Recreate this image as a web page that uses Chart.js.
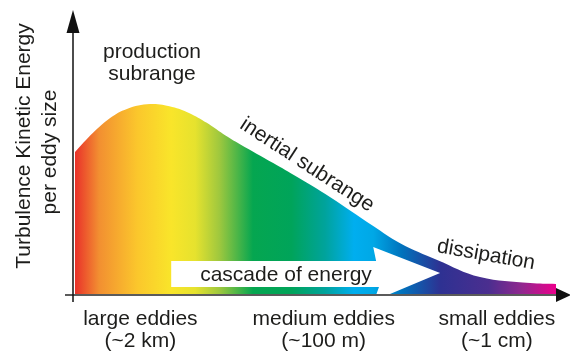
<!DOCTYPE html>
<html>
<head>
<meta charset="utf-8">
<script src="https://cdn.jsdelivr.net/npm/chart.js@4.4.1/dist/chart.umd.min.js"></script>
<style>
  html, body { margin: 0; padding: 0; background: #fff; }
  #wrap { width: 570px; height: 357px; }
</style>
</head>
<body>
<div id="wrap"><canvas id="spectrum" width="570" height="357"></canvas></div>
<script>
/* ================= DATA ================= */
// relative eddy size position (0 = largest, 100 = smallest)
const eddyScale = [0, 3.7, 7.3, 10.8, 15.6, 20.2, 23.7, 27.4, 30.8, 34.3, 41.2, 46.2, 53.0, 62.0, 67.6, 75.3, 84.2, 94.6, 100];
// energy per eddy size (relative)
const energy = [50.2, 56.8, 62.1, 65.3, 67.0, 66.0, 63.9, 60.4, 56.5, 52.9, 46.3, 41.4, 34.4, 24.2, 18.2, 12.3, 6.3, 4.2, 3.9];

// size classes along the bottom
const sizeNames = ["large eddies", "medium eddies", "small eddies"];
const sizeRanges = ["(~2 km)", "(~100 m)", "(~1 cm)"];
const sizeAt = [13.6, 51.7, 87.7];

/* ================= HELPERS ================= */
const FONT = '21px "Liberation Sans", Arial, Helvetica, sans-serif';
const INK = "#1d1d1b";

function rainbow(ctx, area) {
  const g = ctx.createLinearGradient(area.left, 0, area.right, 0);
  g.addColorStop(0.00, "#e9312a");
  g.addColorStop(0.05, "#f28f31");
  g.addColorStop(0.13, "#fbc72c");
  g.addColorStop(0.20, "#f9e52a");
  g.addColorStop(0.25, "#e6e22e");
  g.addColorStop(0.30, "#9fc83e");
  g.addColorStop(0.37, "#05a650");
  g.addColorStop(0.45, "#00a45a");
  g.addColorStop(0.52, "#00a39c");
  g.addColorStop(0.58, "#00aeef");
  g.addColorStop(0.62, "#00a8e6");
  g.addColorStop(0.68, "#0072bc");
  g.addColorStop(0.76, "#2e3192");
  g.addColorStop(0.86, "#4b2e8f");
  g.addColorStop(0.93, "#92278f");
  g.addColorStop(1.00, "#ec008c");
  return g;
}

/* ================= ANNOTATIONS ================= */
const schematic = {
  id: "schematic",
  afterDatasetsDraw(chart) {
    const { ctx, chartArea: a, scales: { x, y } } = chart;
    const px = v => x.getPixelForValue(v);
    const py = v => y.getPixelForValue(v);

    // white "cascade of energy" arrow
    ctx.save();
    ctx.fillStyle = "#fff";
    ctx.beginPath();
    ctx.moveTo(px(20), py(11.9));
    ctx.lineTo(px(62.6), py(11.9));
    ctx.lineTo(px(62.0), py(16.8));
    ctx.lineTo(px(75.9), py(7.7));
    ctx.lineTo(px(65.0), py(0));
    ctx.lineTo(px(62.6), py(0));
    ctx.lineTo(px(63.2), py(2.8));
    ctx.lineTo(px(20), py(2.8));
    ctx.closePath();
    ctx.fill();

    ctx.font = FONT;
    ctx.fillStyle = INK;
    ctx.textAlign = "center";
    ctx.textBaseline = "alphabetic";
    ctx.fillText("cascade of energy", 286, 281);

    // axes
    ctx.strokeStyle = "#5b5b5b";
    ctx.lineWidth = 2;
    ctx.beginPath();
    ctx.moveTo(65, a.bottom);
    ctx.lineTo(558, a.bottom);
    ctx.stroke();

    ctx.strokeStyle = "#111";
    ctx.lineWidth = 1.5;
    ctx.beginPath();
    ctx.moveTo(73, 30);
    ctx.lineTo(73, a.bottom + 7);
    ctx.stroke();

    ctx.fillStyle = "#111";
    ctx.beginPath();
    ctx.moveTo(73, 10);
    ctx.lineTo(66.5, 33);
    ctx.lineTo(79.5, 33);
    ctx.closePath();
    ctx.fill();

    ctx.beginPath();
    ctx.moveTo(571, a.bottom);
    ctx.lineTo(556, a.bottom - 7);
    ctx.lineTo(556, a.bottom + 7);
    ctx.closePath();
    ctx.fill();

    // labels
    ctx.fillStyle = INK;
    ctx.fillText("production", 152, 58);
    ctx.fillText("subrange", 152, 80);

    sizeNames.forEach((name, i) => {
      const cx = px(sizeAt[i]);
      ctx.fillText(name, cx, 325);
      ctx.fillText(sizeRanges[i], cx, 347);
    });

    ctx.save();
    ctx.translate(30, 146);
    ctx.rotate(-Math.PI / 2);
    ctx.fillText("Turbulence Kinetic Energy", 0, 0);
    ctx.restore();

    ctx.save();
    ctx.translate(56, 152);
    ctx.rotate(-Math.PI / 2);
    ctx.fillText("per eddy size", 0, 0);
    ctx.restore();

    ctx.textBaseline = "middle";
    ctx.save();
    ctx.translate(307, 165);
    ctx.rotate(33 * Math.PI / 180);
    ctx.fillText("inertial subrange", 0, 0);
    ctx.restore();

    ctx.save();
    ctx.translate(486, 255);
    ctx.rotate(10 * Math.PI / 180);
    ctx.fillText("dissipation", 0, 0);
    ctx.restore();

    ctx.restore();
  }
};

/* ================= CHART ================= */
new Chart(document.getElementById("spectrum"), {
  type: "line",
  data: {
    datasets: [{
      data: eddyScale.map((v, i) => ({ x: v, y: energy[i] })),
      borderWidth: 0,
      pointRadius: 0,
      tension: 0.4,
      fill: "origin",
      backgroundColor: (context) => {
        const area = context.chart.chartArea;
        if (!area) return "#f9e52a";
        return rainbow(context.chart.ctx, area);
      }
    }]
  },
  options: {
    responsive: false,
    devicePixelRatio: 1,
    animation: false,
    layout: { padding: { left: 75, right: 14, top: 10, bottom: 62 } },
    plugins: { legend: { display: false }, tooltip: { enabled: false } },
    scales: {
      x: { type: "linear", min: 0, max: 100, display: false },
      y: { min: 0, max: 100, display: false }
    }
  },
  plugins: [schematic]
});
</script>
</body>
</html>
